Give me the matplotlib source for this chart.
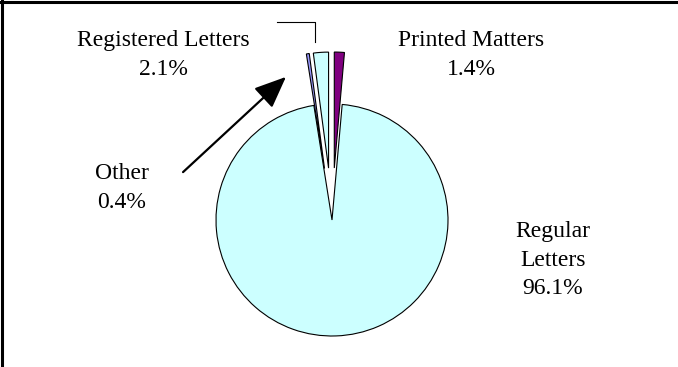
import matplotlib
matplotlib.use("Agg")
import matplotlib.pyplot as plt

# data
labels = ["Printed Matters", "Regular Letters", "Other", "Registered Letters"]
shares = [1.4, 96.1, 0.4, 2.1]
colors = ["#800080", "#CCFFFF", "#9999FF", "#CCFFFF"]
explode = [52, 0, 52, 52]   # offset in pixels

W, H = 678, 367
fig = plt.figure(figsize=(W / 100, H / 100), dpi=100)
ax = fig.add_axes([0, 0, 1, 1])

def py(y):
    # pixel row (from top) -> data y
    return H - y

ax.pie(shares, colors=colors, explode=explode, startangle=90, counterclock=False,
       center=(332, py(220)), radius=116, frame=True,
       wedgeprops=dict(edgecolor="black", linewidth=0.8))
ax.set_xlim(0, W)
ax.set_ylim(0, H)
ax.set_aspect("auto")
ax.axis("off")

font = dict(family="Liberation Serif", fontsize=17, ha="center", va="center",
            linespacing=1.45)
ax.text(163, py(55), "Registered Letters\n2.1%", **font)
ax.text(471, py(55), "Printed Matters\n1.4%", **font)
ax.text(122, py(188), "Other\n0.4%", **font)
ax.text(553, py(260), "Regular\nLetters\n96.1%", **font)

# leader line for Registered Letters
ax.plot([277, 315, 315], [py(22), py(22), py(42)], color="black", lw=0.8)

# arrow pointing at "Other"
ax.annotate("", xy=(288, py(75)), xytext=(181, py(174)),
            arrowprops=dict(arrowstyle="-|>,head_length=1.3,head_width=0.55",
                            mutation_scale=15, color="black", lw=1.6))

# frame: top and left edges
ax.plot([0, W], [py(2), py(2)], color="black", lw=2.2, clip_on=False)
ax.plot([2, 2], [0, H], color="black", lw=2.2, clip_on=False)

fig.savefig("out.png", dpi=100)
